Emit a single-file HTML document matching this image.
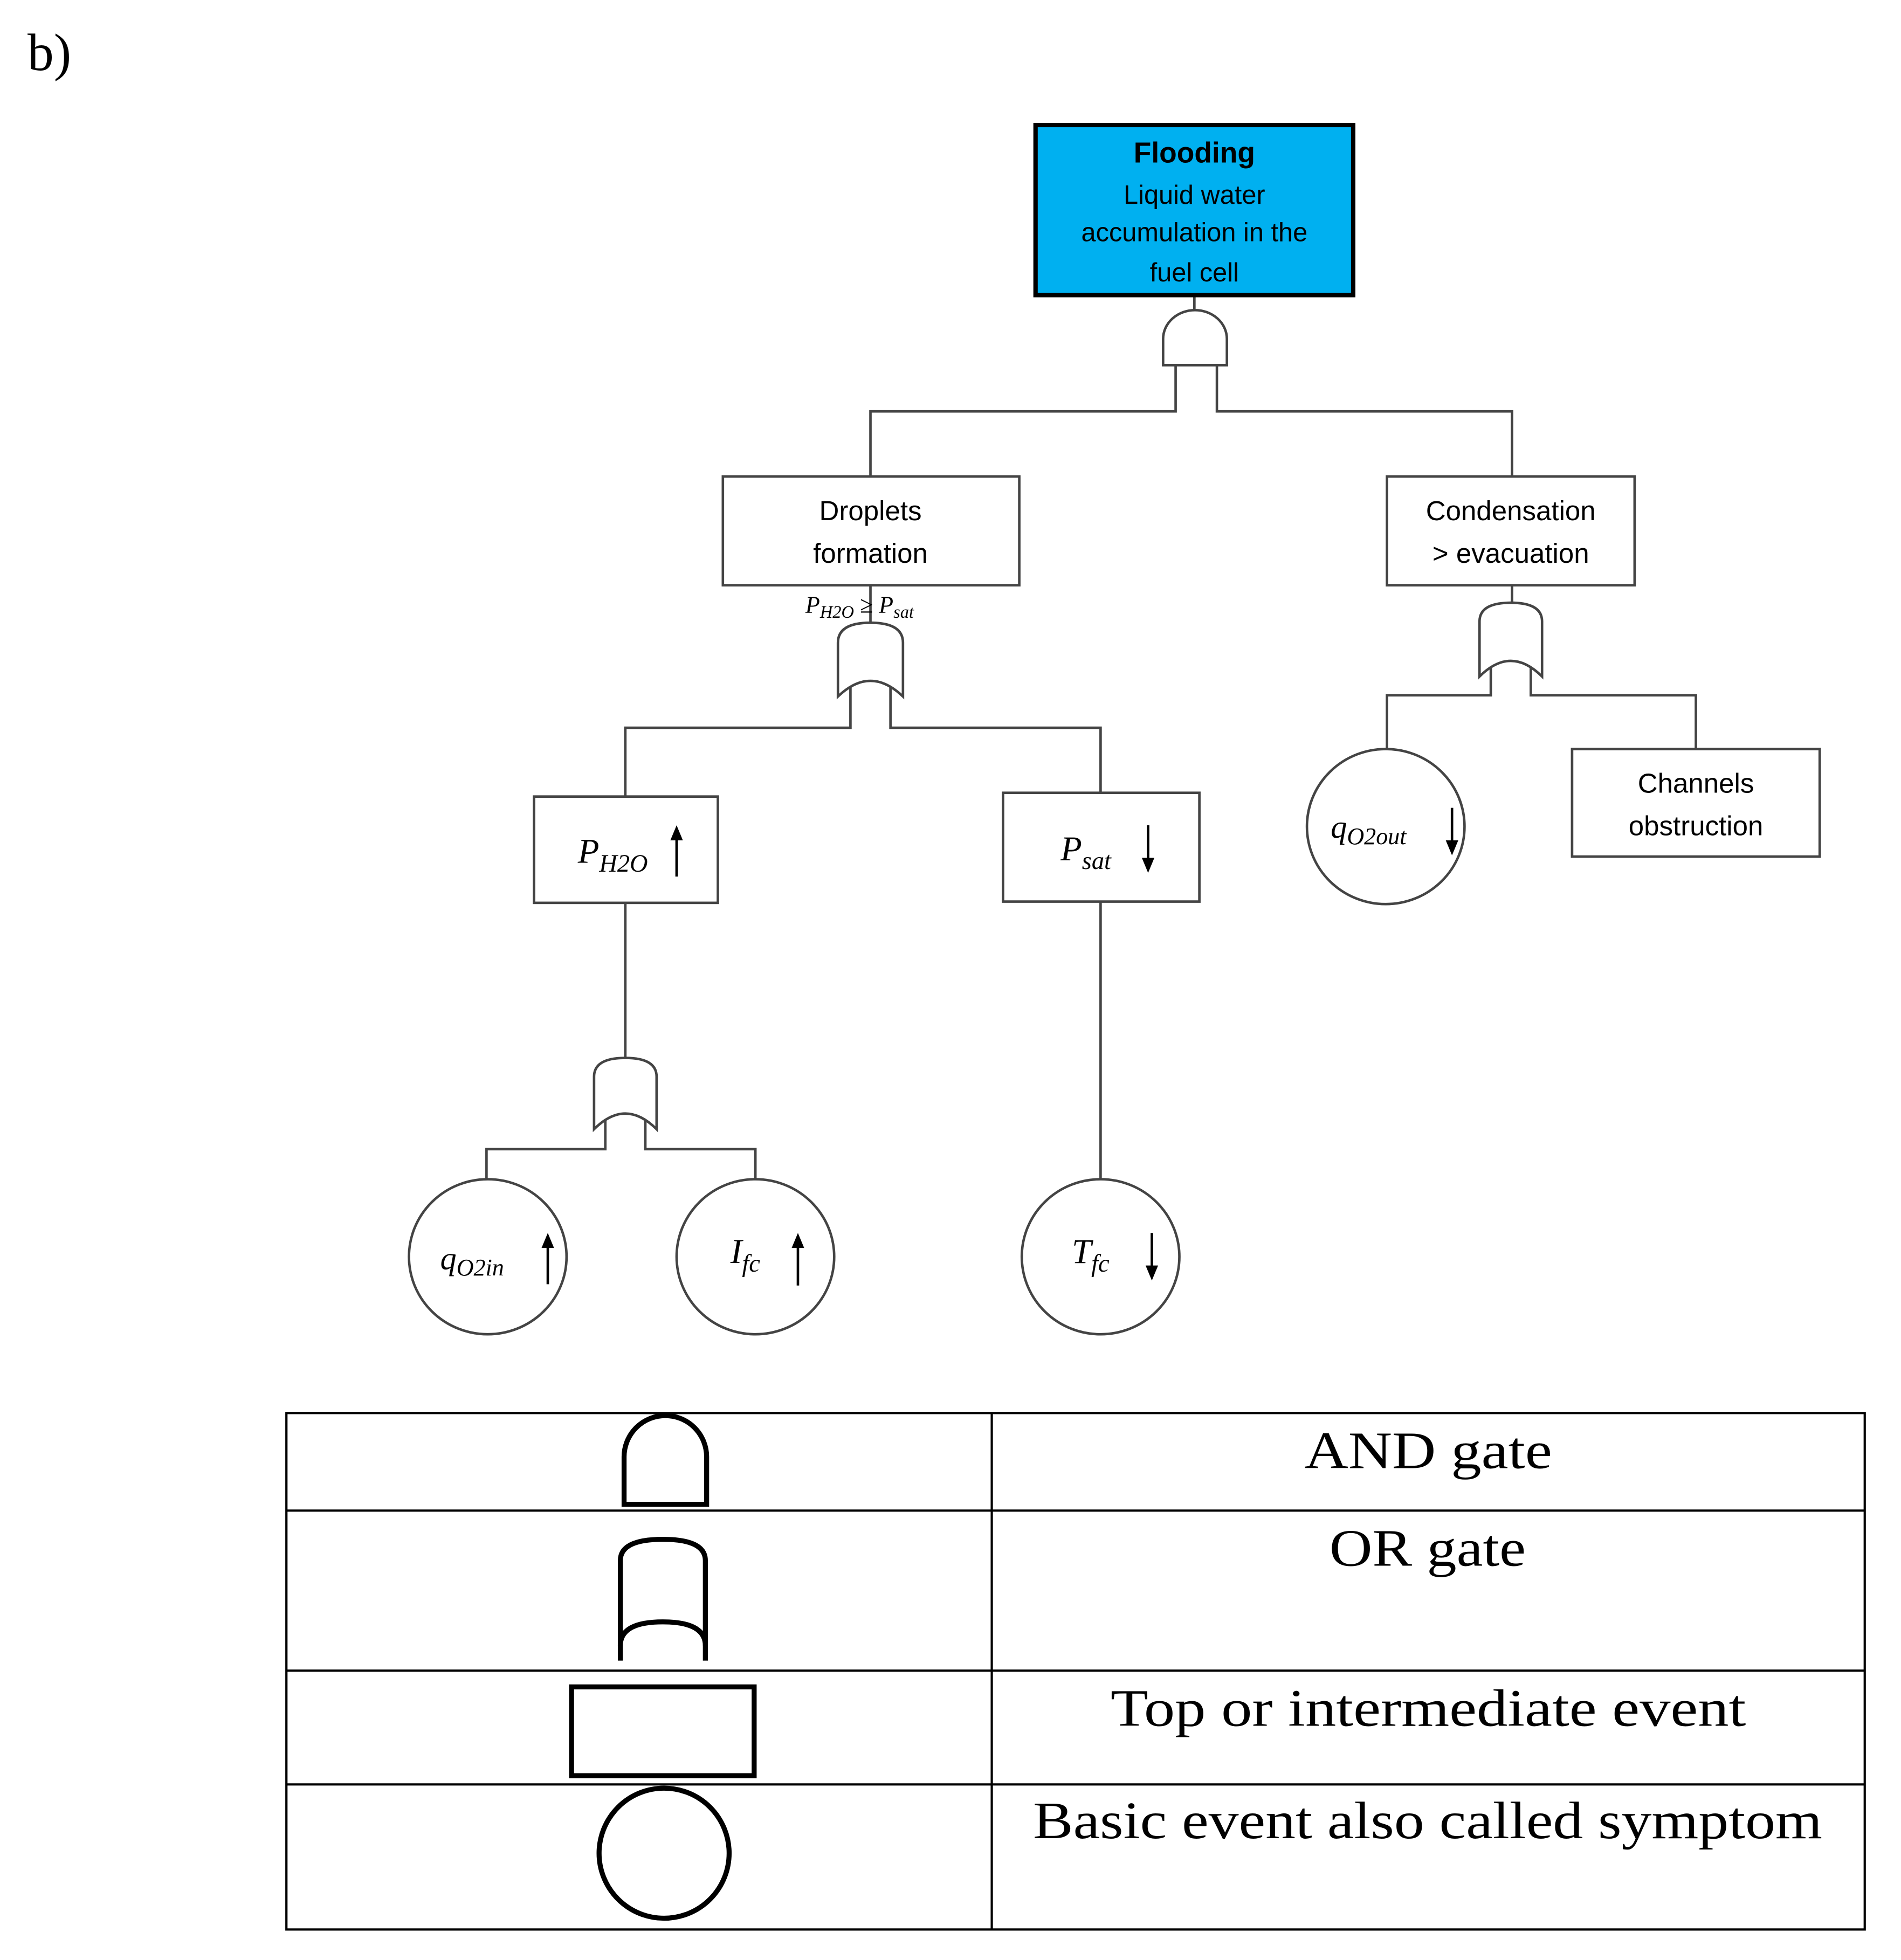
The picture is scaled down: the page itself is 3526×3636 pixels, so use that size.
<!DOCTYPE html>
<html><head><meta charset="utf-8"><style>
html,body{margin:0;padding:0;background:#fff;}
svg{display:block;}
</style></head><body>
<svg width="3526" height="3636" viewBox="0 0 1520 1567.4" preserveAspectRatio="none" xmlns="http://www.w3.org/2000/svg">
<rect x="0" y="0" width="1520" height="1568" fill="#fff"/>
<text x="22" y="56" font-family="Liberation Serif, serif" font-size="42" fill="#000">b)</text>

<g fill="none" stroke="#444" stroke-width="2">
<line x1="955" y1="237" x2="955" y2="248"/>
<path d="M930,292 V271 A25.5,23 0 0 1 981,271 V292 Z" fill="#fff"/>
<polyline points="940,292 940,329 696,329 696,381"/>
<polyline points="973,292 973,329 1209,329 1209,381"/>

<line x1="696" y1="468" x2="696" y2="498"/>
<path d="M670,557 V514 Q670,498 696,498 Q722,498 722,514 V557 Q696,532 670,557 Z" fill="#fff"/>
<polyline points="680,549 680,582 500,582 500,637"/>
<polyline points="712,549 712,582 880,582 880,634"/>

<line x1="1209" y1="468" x2="1209" y2="482"/>
<path d="M1183,541 V497 Q1183,482 1208,482 Q1233,482 1233,497 V541 Q1208,516 1183,541 Z" fill="#fff"/>
<polyline points="1192,534 1192,556 1109,556 1109,600"/>
<polyline points="1224,534 1224,556 1356,556 1356,599"/>

<line x1="500" y1="722" x2="500" y2="846"/>
<path d="M475,903 V861 Q475,846 500,846 Q525,846 525,861 V903 Q500,878 475,903 Z" fill="#fff"/>
<polyline points="484,896 484,919 389,919 389,943"/>
<polyline points="516,896 516,919 604,919 604,943"/>

<line x1="880" y1="721" x2="880" y2="943"/>

<rect x="578" y="381" width="237" height="87" fill="#fff"/>
<rect x="1109" y="381" width="198" height="87" fill="#fff"/>
<rect x="427" y="637" width="147" height="85" fill="#fff"/>
<rect x="802" y="634" width="157" height="87" fill="#fff"/>
<rect x="1257" y="599" width="198" height="86" fill="#fff"/>

<ellipse cx="1108" cy="661" rx="63" ry="62" fill="#fff"/>
<ellipse cx="390" cy="1005" rx="63" ry="62" fill="#fff"/>
<ellipse cx="604" cy="1005" rx="63" ry="62" fill="#fff"/>
<ellipse cx="880" cy="1005" rx="63" ry="62" fill="#fff"/>
</g>

<rect x="828" y="100" width="254" height="136" fill="#00B0F0" stroke="#000" stroke-width="3.5"/>
<g font-family="Liberation Sans, sans-serif" font-size="21" fill="#000" text-anchor="middle">
<text x="955" y="130" font-weight="bold" font-size="23">Flooding</text>
<text x="955" y="163">Liquid water</text>
<text x="955" y="193">accumulation in the</text>
<text x="955" y="225">fuel cell</text>
<text x="696" y="416" font-size="22">Droplets</text>
<text x="696" y="450" font-size="22">formation</text>
<text x="1208" y="416" font-size="22">Condensation</text>
<text x="1208" y="450" font-size="22">&gt; evacuation</text>
<text x="1356" y="634" font-size="22">Channels</text>
<text x="1356" y="668" font-size="22">obstruction</text>
</g>

<g font-family="Liberation Serif, serif" font-style="italic" fill="#000">
<text x="644" y="490" font-size="19">P<tspan font-size="14" dy="4">H2O</tspan><tspan dy="-4" font-style="normal"> ≥ </tspan>P<tspan font-size="14" dy="4">sat</tspan></text>
<text x="462" y="690" font-size="28">P<tspan font-size="20" dy="7">H2O</tspan></text>
<text x="848" y="688" font-size="28">P<tspan font-size="20" dy="7">sat</tspan></text>
<text x="1064" y="670" font-size="26">q<tspan font-size="19" dy="5">O2out</tspan></text>
<text x="352" y="1015" font-size="26">q<tspan font-size="19" dy="5">O2in</tspan></text>
<text x="584" y="1010" font-size="28">I<tspan font-size="20" dy="7">fc</tspan></text>
<text x="857" y="1010" font-size="28">T<tspan font-size="20" dy="7">fc</tspan></text>
</g>

<g stroke="#000" stroke-width="2" fill="#000">
<line x1="541" y1="668" x2="541" y2="701"/><path d="M536,672 L541,660 L546,672 Z" stroke="none"/>
<line x1="918" y1="660" x2="918" y2="690"/><path d="M913,686 L918,698 L923,686 Z" stroke="none"/>
<line x1="1161" y1="646" x2="1161" y2="676"/><path d="M1156,672 L1161,684 L1166,672 Z" stroke="none"/>
<line x1="438" y1="994" x2="438" y2="1027"/><path d="M433,998 L438,986 L443,998 Z" stroke="none"/>
<line x1="638" y1="994" x2="638" y2="1028"/><path d="M633,998 L638,986 L643,998 Z" stroke="none"/>
<line x1="921" y1="986" x2="921" y2="1016"/><path d="M916,1012 L921,1024 L926,1012 Z" stroke="none"/>
</g>

<g fill="none" stroke="#000" stroke-width="1.8">
<rect x="229" y="1130" width="1262" height="413"/>
<line x1="793" y1="1130" x2="793" y2="1543"/>
<line x1="229" y1="1208" x2="1491" y2="1208"/>
<line x1="229" y1="1336" x2="1491" y2="1336"/>
<line x1="229" y1="1427" x2="1491" y2="1427"/>
</g>
<g fill="none" stroke="#000" stroke-width="4">
<path d="M499,1203 V1165 A33,33 0 0 1 565,1165 V1203 Z"/>
<path d="M496,1328 V1248 Q496,1231 530,1231 Q564,1231 564,1248 V1328"/>
<path d="M496,1316 Q496,1297 530,1297 Q564,1297 564,1316"/>
<rect x="457" y="1349" width="146" height="71"/>
<ellipse cx="531" cy="1482" rx="52" ry="52"/>
</g>
<g font-family="Liberation Serif, serif" font-size="42" fill="#000">
<text x="1043" y="1174" textLength="198" lengthAdjust="spacingAndGlyphs">AND gate</text>
<text x="1063" y="1252" textLength="157" lengthAdjust="spacingAndGlyphs">OR gate</text>
<text x="888" y="1380" textLength="508" lengthAdjust="spacingAndGlyphs">Top or intermediate event</text>
<text x="826" y="1470" textLength="631" lengthAdjust="spacingAndGlyphs">Basic event also called symptom</text>
</g>
</svg>
</body></html>
